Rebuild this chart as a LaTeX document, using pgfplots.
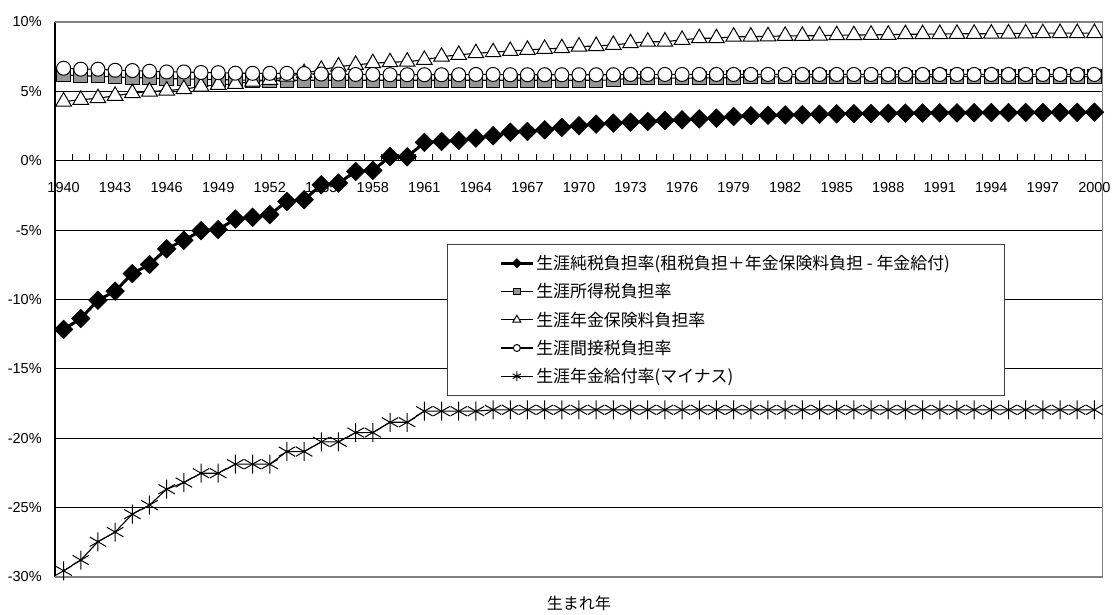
\documentclass[border=0pt]{standalone}
\usepackage{fontspec}
\setmainfont{Liberation Sans}
\newfontfamily\cjk{Noto Sans CJK JP}
\usepackage{pgfplots}
\usepackage{pgfplotstable}
\pgfplotsset{compat=1.18}

\definecolor{boxgray}{RGB}{128,128,128}
\definecolor{sqfill}{RGB}{150,150,150}

% year, net burden, income tax, pension premium, indirect tax, pension benefit (%)
\pgfplotstableread{
year net inc pen ind ben
1940 -12.16 6.20 4.27 6.67 -29.55
1941 -11.37 6.12 4.39 6.60 -28.78
1942 -10.05 6.10 4.51 6.60 -27.46
1943 -9.40 6.03 4.68 6.52 -26.76
1944 -8.13 6.00 4.87 6.50 -25.47
1945 -7.48 5.96 4.99 6.45 -24.82
1946 -6.35 5.92 5.06 6.40 -23.67
1947 -5.73 5.90 5.16 6.40 -23.19
1948 -5.04 5.87 5.35 6.36 -22.52
1949 -4.96 5.85 5.47 6.35 -22.52
1950 -4.20 5.82 5.54 6.31 -21.87
1951 -4.08 5.80 5.71 6.30 -21.87
1952 -3.88 5.80 5.83 6.30 -21.87
1953 -2.93 5.80 6.06 6.30 -20.96
1954 -2.81 5.80 6.31 6.28 -20.96
1955 -1.73 5.80 6.55 6.25 -20.26
1956 -1.61 5.80 6.79 6.25 -20.26
1957 -0.77 5.80 6.91 6.22 -19.59
1958 -0.70 5.80 7.03 6.22 -19.59
1959 0.30 5.80 7.10 6.20 -18.85
1960 0.28 5.80 7.14 6.20 -18.85
1961 1.32 5.80 7.27 6.20 -18.05
1962 1.39 5.80 7.50 6.20 -18.05
1963 1.46 5.80 7.63 6.20 -18.05
1964 1.63 5.80 7.75 6.22 -18.05
1965 1.80 5.80 7.82 6.22 -17.95
1966 2.06 5.80 7.91 6.20 -17.95
1967 2.11 5.80 7.99 6.20 -17.95
1968 2.23 5.80 8.06 6.20 -17.95
1969 2.40 5.80 8.11 6.20 -17.95
1970 2.52 5.80 8.23 6.20 -17.95
1971 2.64 5.80 8.27 6.20 -17.95
1972 2.71 5.82 8.35 6.20 -17.95
1973 2.78 5.95 8.47 6.22 -17.95
1974 2.83 5.95 8.58 6.22 -17.95
1975 2.90 5.95 8.58 6.22 -17.95
1976 2.95 5.95 8.71 6.22 -17.95
1977 3.02 5.97 8.83 6.22 -17.95
1978 3.07 5.97 8.83 6.22 -17.95
1979 3.19 6.00 8.94 6.22 -17.95
1980 3.25 6.03 8.94 6.22 -17.95
1981 3.28 6.05 8.97 6.22 -17.95
1982 3.30 6.05 9.00 6.22 -17.95
1983 3.32 6.05 9.00 6.22 -17.95
1984 3.35 6.05 9.02 6.22 -17.95
1985 3.38 6.05 9.05 6.22 -17.95
1986 3.40 6.05 9.05 6.22 -17.95
1987 3.40 6.05 9.08 6.22 -17.95
1988 3.42 6.05 9.08 6.22 -17.95
1989 3.43 6.05 9.12 6.22 -17.95
1990 3.44 6.05 9.12 6.22 -17.95
1991 3.45 6.06 9.13 6.22 -17.95
1992 3.45 6.06 9.15 6.22 -17.95
1993 3.46 6.06 9.15 6.22 -17.95
1994 3.47 6.06 9.16 6.22 -17.95
1995 3.47 6.06 9.17 6.22 -17.95
1996 3.48 6.06 9.18 6.22 -17.95
1997 3.48 6.06 9.19 6.22 -17.95
1998 3.49 6.06 9.20 6.22 -17.95
1999 3.49 6.06 9.20 6.22 -17.95
2000 3.50 6.06 9.20 6.22 -17.95
}\burden

\begin{document}
\begin{tikzpicture}
\useasboundingbox (0,0) rectangle (1116pt,614pt);
\begin{axis}[
    at={(55pt,37pt)}, anchor=south west,
    scale only axis, width=1048pt, height=555pt,
    xmin=1939.5, xmax=2000.5, ymin=-30, ymax=10,
    axis x line=middle, axis y line=left,
    axis line style={-, black, line width=1.2pt},
    hide obscured x ticks=false, hide obscured y ticks=false,
    xtick={1940,1943,...,2000},
    minor xtick={1939.5,1940.5,...,2000.5},
    major x tick style={draw=none},
    minor tick length=7pt,
    xtick align=inside,
    minor x tick style={black, line width=1pt},
    x tick label style={font=\fontsize{14.5}{17}\selectfont, inner sep=0pt, yshift=-21pt},
    xticklabel={\pgfmathprintnumber[assume math mode=true, 1000 sep={}, fixed, precision=0]{\tick}},
    ytick={-30,-25,...,10},
    yticklabels={-30\%,-25\%,-20\%,-15\%,-10\%,-5\%,0\%,5\%,10\%},
    y tick style={draw=none},
    y tick label style={font=\fontsize{14.5}{17}\selectfont, inner sep=0pt, xshift=-11pt},
    ymajorgrids, grid style={black, line width=1.2pt},
    xlabel={生まれ年},
    xlabel style={at={(rel axis cs:0.5,0)}, anchor=center, yshift=-26pt, font=\cjk\fontsize{16}{19}\selectfont},
    legend style={at={(rel axis cs:0.374,0.600)}, anchor=north west,
        draw=black!75, line width=0.8pt, inner xsep=52pt, inner ysep=9pt,
        font=\cjk\fontsize{16.9}{19}\selectfont, row sep=8.5pt},
    legend cell align=left,
    legend image code/.code={\draw[mark repeat=2, mark phase=2, #1] plot coordinates {(0pt,0pt) (16pt,0pt) (32pt,0pt)};},
    legend image post style={every mark/.append style={scale=0.5}},
]
\draw[boxgray, line width=1.2pt] (rel axis cs:0,1) -- (rel axis cs:1,1) -- (rel axis cs:1,0) -- (rel axis cs:0,0);

\addplot[black, line width=3pt, mark=square*, mark size=6.6pt,
    mark options={rotate=45, fill=black, line width=0.5pt}] table[x=year, y=net] {\burden};
\addlegendentry{生涯純税負担率(租税負担＋年金保険料負担 - 年金給付)}

\addplot[black, line width=1.1pt, mark=square*, mark size=6.8pt,
    mark options={fill=sqfill, draw=black, line width=1pt}] table[x=year, y=inc] {\burden};
\addlegendentry{生涯所得税負担率}

\addplot[black, line width=1.1pt, mark=triangle*, mark size=9pt,
    mark options={fill=white, draw=black, line width=1pt}] table[x=year, y=pen] {\burden};
\addlegendentry{生涯年金保険料負担率}

\addplot[black, line width=1.1pt, mark=*, mark size=7pt,
    mark options={fill=white, draw=black, line width=1pt}] table[x=year, y=ind] {\burden};
\addlegendentry{生涯間接税負担率}

\addplot[black, line width=1.1pt, mark=asterisk, mark size=9.5pt,
    mark options={line width=1pt}] table[x=year, y=ben] {\burden};
\addlegendentry{生涯年金給付率(マイナス)}
\end{axis}
\end{tikzpicture}
\end{document}
